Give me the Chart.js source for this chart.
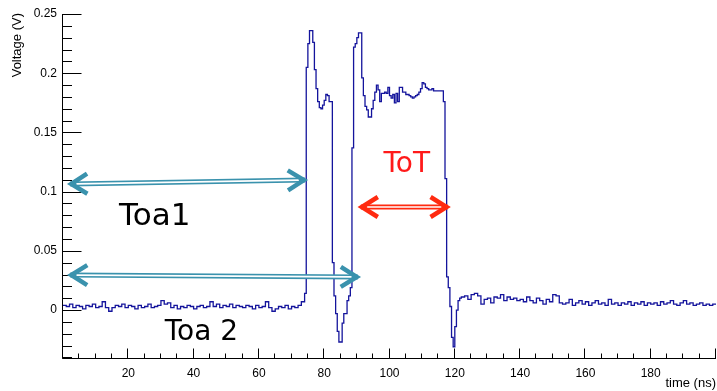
<!DOCTYPE html>
<html>
<head>
<meta charset="utf-8">
<title>Voltage vs time</title>
<script src="https://cdn.jsdelivr.net/npm/chart.js@4.4.1/dist/chart.umd.min.js"></script>
<style>
  html, body { margin: 0; padding: 0; background: #fff; }
  #wrap { width: 717px; height: 391px; }
</style>
</head>
<body>
<div id="wrap"><canvas id="waveChart" width="717" height="391"></canvas></div>
<script>
// Digitised waveform (volts), one value per time bin
const PRE_START = 0, PRE_BIN = 1;
const preNoise = [
    0.004, 0.003, 0.005, 0.002, 0.004, 0.003, 0.001, 0.004, 0.003, 0.005,
    0.002, 0.003, 0.007, 0.002, -0.001, 0.002, 0.004, 0.003, 0.005, 0.002,
    0.004, 0.003, 0.001, 0.004, 0.002, 0.003, 0.005, 0.002, 0.003, 0.004,
    0.008, 0.005, 0.006, 0.002, 0.004, 0.001, 0.003, 0.002, 0.004, 0.003,
    0.001, 0.003, 0.004, 0.002, 0.003, 0.007, 0.003, 0.005, 0.002, 0.004,
    0.003, 0.005, 0.002, 0.004, 0.003, 0.002, 0.004, 0.003, 0.001, 0.004,
    0.002, 0.003, 0.007, 0.002, -0.001, 0.001, 0.003, 0.002, 0.004, 0.001,
    0.003, 0.002, 0.004, 0.007
];

const PULSE_START = 74, PULSE_BIN = 0.5;
const pulse = [
    0.014, 0.205, 0.225, 0.236, 0.236, 0.226, 0.203, 0.187, 0.176, 0.171,
    0.170, 0.173, 0.177, 0.182, 0.181, 0.176, 0.176, 0.040, 0.012, -0.003,
    -0.018, -0.027, -0.027, -0.011, -0.003, -0.003, 0.008, 0.012, 0.019, 0.137,
    0.222, 0.225, 0.230, 0.234, 0.234, 0.196, 0.181, 0.172, 0.169, 0.163,
    0.163, 0.170, 0.177, 0.184, 0.190, 0.186, 0.176, 0.183, 0.183, 0.184,
    0.183, 0.188, 0.181, 0.179, 0.182, 0.175, 0.183, 0.176, 0.188, 0.188,
    0.184, 0.184, 0.182, 0.182, 0.181, 0.180, 0.179, 0.180, 0.181, 0.182,
    0.184, 0.187, 0.192, 0.191, 0.188, 0.187, 0.186, 0.186, 0.187, 0.185,
    0.185, 0.185, 0.185, 0.185, 0.185, 0.176, 0.111, 0.028, 0.019, 0.003,
    -0.023, -0.031, -0.014, 0.000, 0.008, 0.010
];

const POST_START = 122, POST_BIN = 1;
const postNoise = [
    0.011, 0.012, 0.009, 0.013, 0.014, 0.012, 0.005, 0.009, 0.010, 0.006,
    0.011, 0.010, 0.013, 0.008, 0.011, 0.009, 0.010, 0.008, 0.009, 0.007,
    0.011, 0.008, 0.006, 0.010, 0.008, 0.005, 0.009, 0.007, 0.013, 0.012,
    0.006, 0.005, 0.006, 0.009, 0.004, 0.006, 0.008, 0.005, 0.007, 0.004,
    0.006, 0.008, 0.005, 0.006, 0.004, 0.009, 0.005, 0.006, 0.004, 0.006,
    0.005, 0.007, 0.004, 0.006, 0.005, 0.007, 0.004, 0.006, 0.005, 0.006,
    0.004, 0.007, 0.005, 0.006, 0.008, 0.005, 0.004, 0.006, 0.008, 0.005,
    0.006, 0.004, 0.005, 0.006, 0.004, 0.005, 0.004, 0.005
];

// Axis ranges and tick spacing
const X_MIN = 0, X_MAX = 200, X_MAJOR = 20, X_MINOR = 5;
const Y_MIN = -0.0405, Y_MAX = 0.25, Y_MAJOR = 0.05, Y_MINOR = 0.01;

// Annotations, in data units (ns, V); text is anchored at its baseline centre
const arrows = [
    { from: [1.6, 0.1064], to: [74.7, 0.1098], color: '#3a92ad' },
    { from: [1.6, 0.0296], to: [90.9, 0.0279], color: '#3a92ad' },
    { from: [90.6, 0.087], to: [118.4, 0.087], color: '#ff2a10' }
];
const notes = [
    { text: 'Toa1', at: [28.1, 0.0718], size: 31, color: '#000000' },
    { text: 'Toa 2', at: [42.4, -0.0250], size: 28, color: '#000000' },
    { text: 'ToT', at: [105.3, 0.1166], size: 28, color: '#ff1a1a' }
];

const TICK_FONT = { family: 'Liberation Sans', size: 12 };

function binsToPoints(values, start, width) {
    return values.map((v, i) => ({ x: start + i * width, y: v }));
}

const points = [].concat(
    binsToPoints(preNoise, PRE_START, PRE_BIN),
    binsToPoints(pulse, PULSE_START, PULSE_BIN),
    binsToPoints(postNoise, POST_START, POST_BIN)
);
// close the last bin at the right edge
points.push({ x: X_MAX, y: postNoise[postNoise.length - 1] });

function strokeLine(ctx, x1, y1, x2, y2) {
    ctx.beginPath();
    ctx.moveTo(x1, y1);
    ctx.lineTo(x2, y2);
    ctx.stroke();
}

function drawArrow(ctx, x1, y1, x2, y2, color) {
    const ang = Math.atan2(y2 - y1, x2 - x1);
    const len = Math.hypot(x2 - x1, y2 - y1);
    const headLen = 19, headW = 10;
    ctx.save();
    ctx.translate(x1, y1);
    ctx.rotate(ang);
    // hollow double-line shaft
    ctx.lineCap = 'butt';
    ctx.strokeStyle = color;
    ctx.lineWidth = 5;
    strokeLine(ctx, 2, 0, len - 2, 0);
    ctx.strokeStyle = '#ffffff';
    ctx.lineWidth = 1.7;
    strokeLine(ctx, 8, 0, len - 8, 0);
    // chevron heads at both ends
    ctx.strokeStyle = color;
    ctx.lineWidth = 4.5;
    ctx.lineJoin = 'miter';
    ctx.beginPath();
    ctx.moveTo(headLen, -headW);
    ctx.lineTo(3, 0);
    ctx.lineTo(headLen, headW);
    ctx.stroke();
    ctx.beginPath();
    ctx.moveTo(len - headLen, -headW);
    ctx.lineTo(len - 3, 0);
    ctx.lineTo(len - headLen, headW);
    ctx.stroke();
    ctx.restore();
}

// ROOT-style frame: inward ticks, axis titles, annotations
const rootFrame = {
    id: 'rootFrame',
    afterDatasetsDraw(chart) {
        const { ctx, chartArea: a, scales: { x, y } } = chart;
        ctx.save();
        ctx.strokeStyle = '#000';
        ctx.lineWidth = 1;
        const left = Math.round(a.left) - 0.5;
        const bottom = Math.round(a.bottom) + 0.5;
        strokeLine(ctx, left, a.top, left, bottom);
        strokeLine(ctx, left, bottom, a.right, bottom);

        const nx = Math.round((X_MAX - X_MIN) / X_MINOR);
        for (let k = 0; k <= nx; k++) {
            const t = X_MIN + k * X_MINOR;
            const px = Math.round(x.getPixelForValue(t)) - 0.5;
            const len = (k % (X_MAJOR / X_MINOR) === 0) ? 10 : 5;
            strokeLine(ctx, px, bottom, px, bottom - len);
        }
        const k0 = Math.ceil(Y_MIN / Y_MINOR - 1e-9);
        const k1 = Math.floor(Y_MAX / Y_MINOR + 1e-9);
        for (let k = k0; k <= k1; k++) {
            const py = Math.round(y.getPixelForValue(k * Y_MINOR)) + 0.5;
            const len = (k % 5 === 0) ? 19 : 9.5;
            strokeLine(ctx, left, py, left + len, py);
        }

        arrows.forEach(ar => {
            drawArrow(ctx,
                x.getPixelForValue(ar.from[0]), y.getPixelForValue(ar.from[1]),
                x.getPixelForValue(ar.to[0]), y.getPixelForValue(ar.to[1]),
                ar.color);
        });

        ctx.textAlign = 'center';
        ctx.textBaseline = 'alphabetic';
        notes.forEach(n => {
            ctx.font = n.size + 'px "DejaVu Sans"';
            ctx.fillStyle = n.color;
            ctx.fillText(n.text, x.getPixelForValue(n.at[0]), y.getPixelForValue(n.at[1]));
        });

        // axis titles
        ctx.fillStyle = '#000';
        ctx.font = '13px "Liberation Sans"';
        ctx.textAlign = 'right';
        ctx.textBaseline = 'alphabetic';
        ctx.fillText('time (ns)', a.right, 387);
        ctx.save();
        ctx.translate(21, a.top - 1);
        ctx.rotate(-Math.PI / 2);
        ctx.fillText('Voltage (V)', 0, 0);
        ctx.restore();
        ctx.restore();
    }
};

function initChart() {
    const canvas = document.getElementById('waveChart');
    new Chart(canvas, {
        type: 'line',
        data: {
            datasets: [{
                data: points,
                stepped: true,
                borderColor: '#14149c',
                borderWidth: 1.3,
                pointRadius: 0,
                fill: false
            }]
        },
        options: {
            responsive: false,
            animation: false,
            devicePixelRatio: 1,
            layout: { padding: { top: 14, right: 1, left: 0, bottom: 0 } },
            plugins: {
                legend: { display: false },
                tooltip: { enabled: false }
            },
            scales: {
                x: {
                    type: 'linear',
                    min: X_MIN,
                    max: X_MAX,
                    grid: { display: false, drawTicks: false },
                    border: { display: false },
                    afterFit: function(scale) {
                        scale.height = 33;
                        scale.paddingLeft = 0;
                        scale.paddingRight = 0;
                    },
                    ticks: {
                        stepSize: X_MAJOR,
                        padding: 8,
                        color: '#000',
                        font: TICK_FONT,
                        maxRotation: 0,
                        callback: function(v) {
                            return (v <= X_MIN || v >= X_MAX) ? '' : String(v);
                        }
                    }
                },
                y: {
                    min: Y_MIN,
                    max: Y_MAX,
                    grid: { display: false, drawTicks: false },
                    border: { display: false },
                    afterFit: function(scale) {
                        scale.width = 63;
                        scale.paddingTop = 0;
                        scale.paddingBottom = 0;
                    },
                    ticks: {
                        stepSize: Y_MAJOR,
                        includeBounds: false,
                        padding: 6,
                        color: '#000',
                        font: TICK_FONT,
                        callback: function(v) {
                            return String(+v.toFixed(3));
                        }
                    }
                }
            }
        },
        plugins: [rootFrame]
    });
}

document.addEventListener('DOMContentLoaded', initChart);
</script>
</body>
</html>
